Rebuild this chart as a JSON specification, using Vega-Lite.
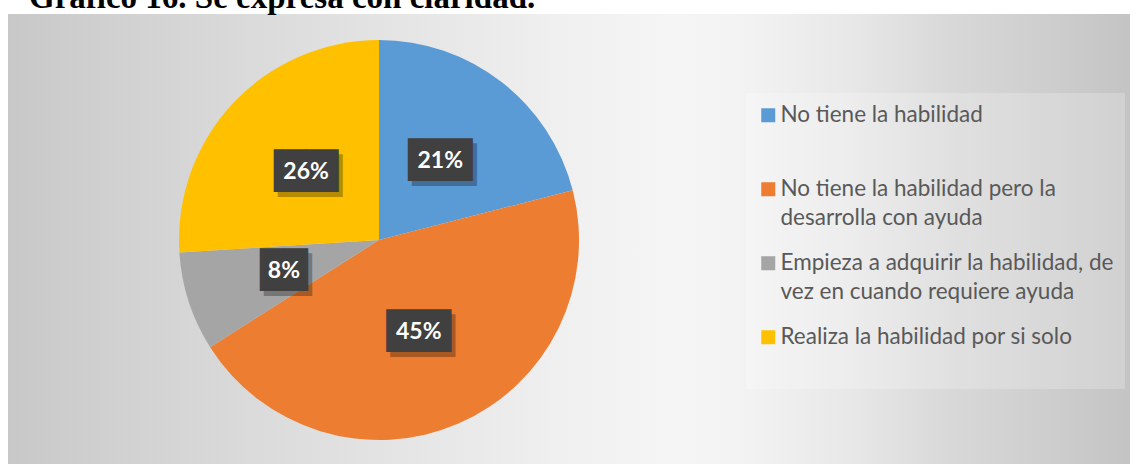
{
  "$schema": "https://vega.github.io/schema/vega-lite/v6.json",
  "autosize": {"type": "pad"},
  "padding": {"left": 8, "top": -18, "right": 0, "bottom": 0},
  "background": "#ffffff",
  "title": {
    "text": "Gráfico 16. Se expresa con claridad.",
    "anchor": "start",
    "frame": "group",
    "font": "Liberation Serif",
    "fontSize": 33,
    "fontWeight": "bold",
    "color": "#000000",
    "baseline": "alphabetic",
    "offset": -27,
    "dx": 21
  },
  "data": {
    "values": [
      {"categoria": "No tiene la habilidad", "porcentaje": 0.21, "orden": 1},
      {"categoria": "No tiene la habilidad pero la desarrolla con ayuda", "porcentaje": 0.45, "orden": 2},
      {"categoria": "Empieza a adquirir la habilidad, de vez en cuando requiere ayuda", "porcentaje": 0.08, "orden": 3},
      {"categoria": "Realiza la habilidad por si solo", "porcentaje": 0.26, "orden": 4}
    ]
  },
  "spacing": 0,
  "hconcat": [
    {
      "width": 742,
      "height": 452,
      "view": {
        "stroke": null,
        "fill": {
          "gradient": "linear", "x1": 0, "y1": 0.5, "x2": 1, "y2": 0.5,
          "stops": [
            {"offset": 0, "color": "#c8c8c8"},
            {"offset": 0.13, "color": "#d0d0d0"},
            {"offset": 0.4, "color": "#dedede"},
            {"offset": 0.75, "color": "#f0f0f0"},
            {"offset": 0.9, "color": "#f5f5f5"},
            {"offset": 1, "color": "#f2f2f2"}
          ]
        }
      },
      "encoding": {
        "theta": {"field": "porcentaje", "type": "quantitative", "stack": true},
        "order": {"field": "orden", "type": "quantitative"}
      },
      "layer": [
        {
          "mark": {"type": "arc", "outerRadius": 200},
          "encoding": {
            "color": {
              "field": "categoria",
              "type": "nominal",
              "scale": {
                "domain": [
                  "No tiene la habilidad",
                  "No tiene la habilidad pero la desarrolla con ayuda",
                  "Empieza a adquirir la habilidad, de vez en cuando requiere ayuda",
                  "Realiza la habilidad por si solo"
                ],
                "range": ["#5b9bd5", "#ed7d31", "#a5a5a5", "#ffc000"]
              },
              "legend": {
                "orient": "none",
                "legendX": 738,
                "legendY": 79,
                "title": null,
                "symbolType": "square",
                "symbolSize": 196,
                "symbolStrokeWidth": 0,
                "labelFont": "Lato",
                "labelFontSize": 22.5,
                "labelColor": "#595959",
                "labelLimit": 400,
                "labelOffset": 1,
                "rowPadding": 22,
                "padding": 11,
                "fillColor": "rgba(255,255,255,0.22)",
                "labelExpr": "datum.label == 'No tiene la habilidad pero la desarrolla con ayuda' ? ['No tiene la habilidad pero la', 'desarrolla con ayuda'] : datum.label == 'Empieza a adquirir la habilidad, de vez en cuando requiere ayuda' ? ['Empieza a adquirir la habilidad, de', 'vez en cuando requiere ayuda'] : [datum.label, '']"
              }
            }
          }
        },
        {
          "mark": {"type": "text", "radius": 100, "font": "DejaVu Sans Mono", "fontSize": 36, "fill": "#000000", "opacity": 0.28, "dx": 4, "dy": 5, "align": "center", "baseline": "middle"},
          "encoding": {
            "detail": {"field": "categoria"},
            "text": {"condition": {"test": "datum.porcentaje < 0.1", "value": "▕██▏"}, "value": "▐██▌"}
          }
        },
        {
          "mark": {"type": "text", "radius": 100, "font": "DejaVu Sans Mono", "fontSize": 36, "fill": "#404040", "align": "center", "baseline": "middle"},
          "encoding": {
            "detail": {"field": "categoria"},
            "text": {"condition": {"test": "datum.porcentaje < 0.1", "value": "▕██▏"}, "value": "▐██▌"}
          }
        },
        {
          "mark": {"type": "text", "radius": 100, "font": "Lato", "fontSize": 23, "fontWeight": "bold", "fill": "#ffffff", "align": "center", "baseline": "middle"},
          "encoding": {
            "detail": {"field": "categoria"},
            "text": {"field": "porcentaje", "type": "quantitative", "format": ".0%"}
          }
        }
      ]
    },
    {
      "width": 380,
      "height": 452,
      "view": {
        "stroke": null,
        "fill": {
          "gradient": "linear", "x1": 0, "y1": 0.5, "x2": 1, "y2": 0.5,
          "stops": [
            {"offset": 0, "color": "#f2f2f2"},
            {"offset": 0.26, "color": "#e8e8e8"},
            {"offset": 0.53, "color": "#d8d8d8"},
            {"offset": 0.8, "color": "#cdcdcd"},
            {"offset": 1, "color": "#c4c4c4"}
          ]
        }
      },
      "mark": {"type": "text", "text": ""},
      "encoding": {}
    }
  ],
  "config": {
    "style": {"guide-label": {"lineHeight": 28.5}}
  }
}
